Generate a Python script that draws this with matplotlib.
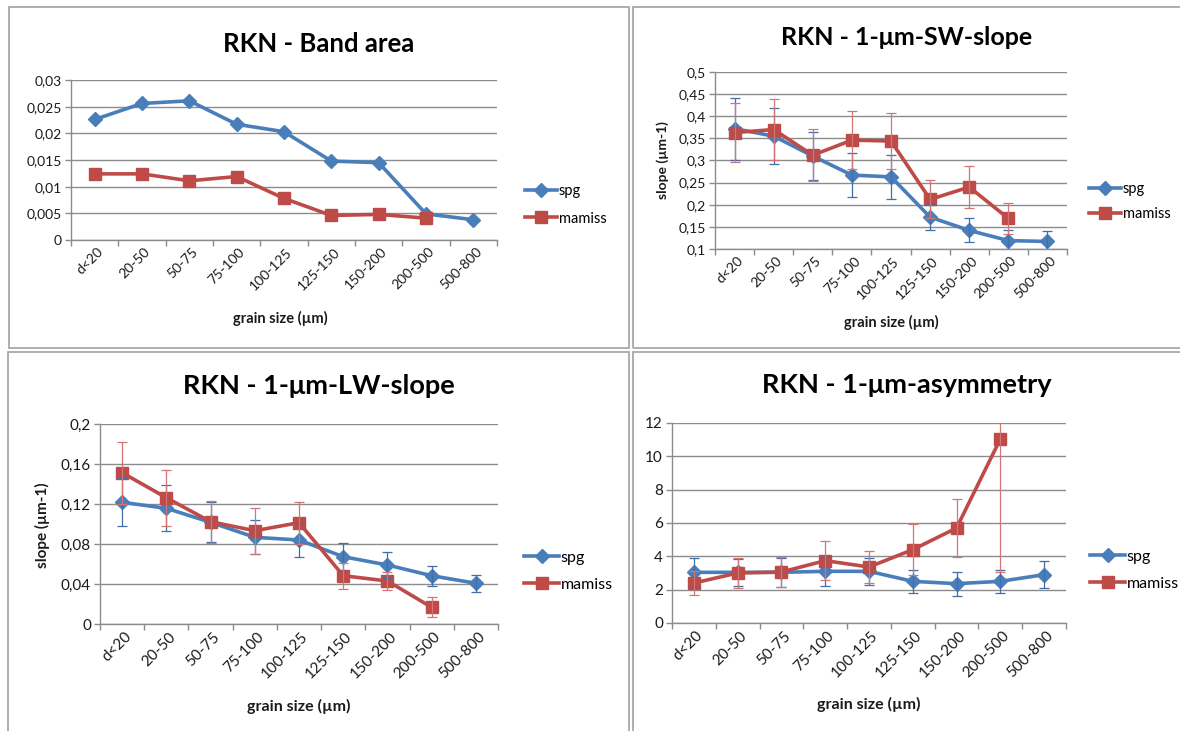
import numpy as np
import matplotlib
matplotlib.use("Agg")
import matplotlib.pyplot as plt
from matplotlib.patches import Rectangle
from matplotlib.transforms import ScaledTranslation
from matplotlib.ticker import FixedLocator, FuncFormatter

plt.rcParams['font.family'] = ['Lato', 'DejaVu Sans']

# ---------------- data ----------------
categories = ['d<20', '20-50', '50-75', '75-100', '100-125', '125-150', '150-200', '200-500', '500-800']

band_spg = [0.0226, 0.0256, 0.0261, 0.0217, 0.0203, 0.0148, 0.0145, 0.0049, 0.0038]
band_mamiss = [0.0124, 0.0124, 0.0111, 0.0119, 0.0078, 0.0046, 0.0048, 0.0041]

sw_spg = [0.372, 0.355, 0.310, 0.267, 0.263, 0.172, 0.142, 0.119, 0.117]
sw_spg_err = [0.070, 0.064, 0.055, 0.050, 0.050, 0.030, 0.027, 0.025, 0.023]
sw_mamiss = [0.363, 0.370, 0.312, 0.346, 0.344, 0.212, 0.240, 0.169]
sw_mamiss_err = [0.066, 0.068, 0.059, 0.066, 0.063, 0.043, 0.047, 0.036]

lw_spg = [0.1217, 0.1157, 0.1017, 0.0867, 0.0840, 0.0673, 0.0590, 0.0483, 0.0407]
lw_spg_err = [0.024, 0.023, 0.020, 0.017, 0.017, 0.014, 0.013, 0.010, 0.0085]
lw_mamiss = [0.1513, 0.1263, 0.1023, 0.0933, 0.1013, 0.0483, 0.0430, 0.0167]
lw_mamiss_err = [0.031, 0.028, 0.021, 0.023, 0.021, 0.013, 0.009, 0.010]

asym_spg = [3.04, 3.04, 3.04, 3.10, 3.10, 2.50, 2.36, 2.50, 2.90]
asym_spg_err = [0.85, 0.83, 0.85, 0.86, 0.80, 0.70, 0.72, 0.70, 0.80]
asym_mamiss = [2.40, 3.00, 3.06, 3.74, 3.36, 4.40, 5.70, 11.04]
asym_mamiss_err = [0.70, 0.90, 0.90, 1.17, 0.97, 1.52, 1.72, 8.00]

series_names = ['spg', 'mamiss']

# ---------------- style ----------------
W, H = 1180, 731
BLUE = '#4A7EBB'
RED = '#BE4B48'
BLUE_EB = '#3F6FAA'
RED_EB = '#D37572'
GRID = '#8C8C8C'
FRAME = '#A8A8A8'

fig = plt.figure(figsize=(W / 100, H / 100), dpi=100)
fig.patch.set_facecolor('white')


def fx(x):
    return x / W


def fy(y):
    return 1 - y / H


def rect(l, t, r, b):
    return [l / W, 1 - b / H, (r - l) / W, (b - t) / H]


# panel frames
for (l, t, r, b) in [(9, 7, 629, 348), (633, 7, 1195, 348), (8, 352, 629, 745), (633, 352, 1195, 745)]:
    fig.patches.append(Rectangle((fx(l), fy(b)), fx(r - l), (b - t) / H, transform=fig.transFigure,
                                 fill=False, edgecolor=FRAME, linewidth=1.3, zorder=0))


def comma_fmt(v, pos):
    s = f"{v:g}"
    return s.replace('.', ',')


def make_panel(box, ylim, ystep, spg, mamiss, spg_err, mamiss_err, title, title_xy, title_size,
               xlabel_xy, ylabel_xy, legend_xy, legend_spacing, fs):
    ax = fig.add_axes(rect(*box))
    x = np.arange(len(categories))
    ax.set_xlim(-0.5, len(categories) - 0.5)
    ax.set_ylim(*ylim)
    yt = np.arange(ylim[0], ylim[1] + ystep / 2, ystep)
    ax.yaxis.set_major_locator(FixedLocator(yt))
    ax.yaxis.set_major_formatter(FuncFormatter(comma_fmt))
    ax.grid(axis='y', color=GRID, linewidth=1.0, zorder=0)
    ax.set_axisbelow(True)
    for s in ['top', 'right']:
        ax.spines[s].set_visible(False)
    for s in ['left', 'bottom']:
        ax.spines[s].set_color(GRID)
        ax.spines[s].set_linewidth(1.0)
    ax.set_xticks(x)
    ax.set_xticklabels(categories, rotation=45, ha='right', va='top', rotation_mode='anchor')
    ax.set_xticks(np.arange(-0.5, len(categories), 1.0), minor=True)
    ax.tick_params(axis='x', which='major', length=0, pad=4.0, labelsize=fs, labelcolor='#1a1a1a')
    ax.tick_params(axis='x', which='minor', length=4, width=1.0, color=GRID, direction='out')
    ax.tick_params(axis='y', which='major', length=4, width=1.0, color=GRID, direction='out',
                   pad=2.5, labelsize=fs, labelcolor='#1a1a1a')
    for lab in ax.get_xticklabels():
        lab.set_transform(lab.get_transform() + ScaledTranslation(2 / 100, 0, fig.dpi_scale_trans))

    xs = np.arange(len(spg))
    xm = np.arange(len(mamiss))
    l1, = ax.plot(xs, spg, color=BLUE, lw=2.6, marker='D', ms=7, mec=BLUE, mfc=BLUE,
                  label=series_names[0], zorder=3, solid_joinstyle='round')
    l2, = ax.plot(xm, mamiss, color=RED, lw=2.6, marker='s', ms=8, mec=RED, mfc=RED,
                  label=series_names[1], zorder=4, solid_joinstyle='round')
    if spg_err is not None:
        ax.errorbar(xs, spg, yerr=spg_err, fmt='none', ecolor=BLUE_EB, elinewidth=0.9,
                    capsize=3.3, capthick=0.9, zorder=5)
        ax.errorbar(xm, mamiss, yerr=mamiss_err, fmt='none', ecolor=RED_EB, elinewidth=0.9,
                    capsize=3.3, capthick=0.9, zorder=6)

    fig.text(fx(title_xy[0]), fy(title_xy[1]), title, ha='center', va='baseline',
             fontsize=title_size, fontweight='bold', color='black')
    fig.text(fx(xlabel_xy[0]), fy(xlabel_xy[1]), 'grain size (µm)', ha='center', va='center',
             fontsize=fs + 0.5, fontweight='bold', color='#1a1a1a')
    if ylabel_xy is not None:
        fig.text(fx(ylabel_xy[0]), fy(ylabel_xy[1]), 'slope (µm-1)', ha='center', va='center',
                 rotation=90, fontsize=fs, fontweight='bold', color='#1a1a1a')
    ax.legend(handles=[l1, l2], loc='center left', bbox_to_anchor=(fx(legend_xy[0]), fy(legend_xy[1])),
              bbox_transform=fig.transFigure, frameon=False, fontsize=fs + 0.5, borderpad=0,
              borderaxespad=0, handlelength=2.2, handletextpad=0.1, labelspacing=legend_spacing,
              numpoints=1)
    return ax


make_panel((71, 80, 497, 240), (0, 0.03), 0.005, band_spg, band_mamiss, None, None,
           'RKN - Band area', (319, 52), 18.5, (280, 318), None, (525, 205), 0.9, 10)

make_panel((715, 72, 1067, 249), (0.1, 0.5), 0.05, sw_spg, sw_mamiss, sw_spg_err, sw_mamiss_err,
           'RKN - 1-μm-SW-slope', (907, 45), 18, (891, 322), (663, 160), (1089, 201.5), 0.7, 10)

make_panel((100, 424, 498, 624), (0, 0.2), 0.04, lw_spg, lw_mamiss, lw_spg_err, lw_mamiss_err,
           'RKN - 1-μm-LW-slope', (319, 394), 19.5, (299, 706), (42, 525), (524, 571), 0.8, 11)

make_panel((672, 423, 1066, 623), (0, 12), 2, asym_spg, asym_mamiss, asym_spg_err, asym_mamiss_err,
           'RKN - 1-μm-asymmetry', (907, 393), 19.5, (869, 704), None, (1090, 570), 0.8, 11)

fig.savefig('out.png', dpi=100, facecolor='white')
